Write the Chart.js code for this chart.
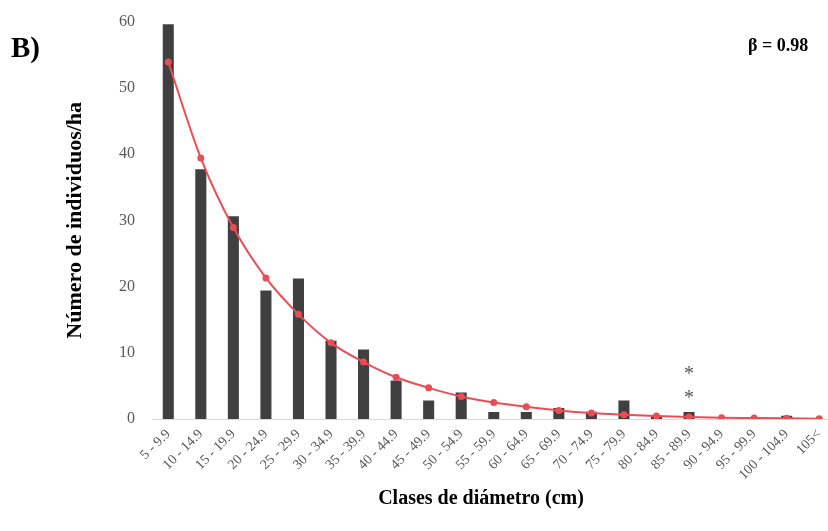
<!DOCTYPE html>
<html>
<head>
<meta charset="utf-8">
<script src="https://cdn.jsdelivr.net/npm/chart.js@4/dist/chart.umd.min.js"></script>
<style>
  html, body { margin: 0; padding: 0; background: #fff; overflow: hidden; }
  #wrap { width: 828px; height: 531px; overflow: hidden; position: relative; }
  /* the canvas runs a little past the frame on the right and top */
  #wrap canvas { display: block; margin-top: -5px; }
</style>
</head>
<body>
<div id="wrap"><canvas id="diam" width="840" height="536"></canvas></div>
<script>
// diameter classes (cm)
const clases = [
  '5 - 9.9', '10 - 14.9', '15 - 19.9', '20 - 24.9', '25 - 29.9', '30 - 34.9',
  '35 - 39.9', '40 - 44.9', '45 - 49.9', '50 - 54.9', '55 - 59.9', '60 - 64.9',
  '65 - 69.9', '70 - 74.9', '75 - 79.9', '80 - 84.9', '85 - 89.9', '90 - 94.9',
  '95 - 99.9', '100 - 104.9', '105<'
];
// observed individuals per hectare
const observados = [
  59.6, 37.7, 30.6, 19.4, 21.2, 11.8, 10.5, 5.8, 2.8, 4.0, 1.05,
  1.05, 1.65, 1.1, 2.8, 0.5, 1.05, 0, 0, 0.5, 0
];
// fitted negative exponential curve
const ajustados = [
  53.9, 39.4, 28.9, 21.3, 15.8, 11.5, 8.6, 6.3, 4.7, 3.4, 2.5,
  1.86, 1.3, 0.9, 0.65, 0.45, 0.3, 0.2, 0.15, 0.1, 0.05
];
const yTicks = [0, 10, 20, 30, 40, 50, 60];
// significance marks above one class: [class index, height]
const asteriscos = [[16, 7.3], [16, 3.7]];

const SERIF = '"Liberation Serif", "DejaVu Serif", serif';
const GRIS = '#595959';
const DY = 5; // canvas is shifted up by this much

const textos = {
  id: 'textos',
  afterDraw(chart) {
    const { ctx, scales: { x, y } } = chart;
    ctx.save();
    ctx.fillStyle = '#000';
    ctx.textBaseline = 'middle';
    ctx.font = `bold 29px ${SERIF}`;
    ctx.textAlign = 'left';
    ctx.fillText('B)', 11, 50 + DY);

    ctx.font = `bold 18px ${SERIF}`;
    ctx.fillText('β = 0.98', 748, 46 + DY);

    ctx.font = `bold 20px ${SERIF}`;
    ctx.textAlign = 'center';
    ctx.fillText('Clases de diámetro (cm)', 481, 499 + DY);

    ctx.font = `20px ${SERIF}`;
    ctx.fillStyle = '#555';
    asteriscos.forEach(([i, v]) => {
      ctx.fillText('*', x.getPixelForValue(i), y.getPixelForValue(v) + 4);
    });
    ctx.restore();
  }
};

new Chart(document.getElementById('diam'), {
  data: {
    labels: clases,
    datasets: [
      {
        type: 'line',
        data: ajustados,
        borderColor: '#ec4d55',
        backgroundColor: '#ec4d55',
        borderWidth: 2,
        pointRadius: 2.5,
        pointHoverRadius: 2.5,
        cubicInterpolationMode: 'monotone',
        order: 0
      },
      {
        type: 'bar',
        data: observados,
        backgroundColor: '#404040',
        barPercentage: 0.34,
        categoryPercentage: 1,
        order: 1
      }
    ]
  },
  options: {
    responsive: false,
    animation: false,
    events: [],
    layout: { padding: { left: 62, top: 10, right: 4, bottom: 0 } },
    plugins: { legend: { display: false }, tooltip: { enabled: false } },
    scales: {
      x: {
        type: 'category',
        offset: true,
        grid: { display: false, drawTicks: false },
        border: { display: true, color: '#d9d9d9', width: 1 },
        ticks: {
          color: GRIS,
          font: { family: SERIF, size: 14 },
          minRotation: 45,
          maxRotation: 45,
          autoSkip: false,
          padding: 7
        },
        afterFit(scale) { scale.height = 112; }
      },
      y: {
        min: 0,
        max: 60,
        afterBuildTicks(scale) { scale.ticks = yTicks.map(v => ({ value: v })); },
        grid: { display: false, drawTicks: false },
        border: { display: false },
        ticks: {
          color: GRIS,
          font: { family: SERIF, size: 16 },
          padding: 17
        },
        title: {
          display: true,
          text: 'Número de individuos/ha',
          color: '#000',
          font: { family: SERIF, size: 22, weight: 'bold' },
          padding: 0
        },
        afterFit(scale) { scale.width = 90; }
      }
    }
  },
  plugins: [textos]
});
</script>
</body>
</html>
